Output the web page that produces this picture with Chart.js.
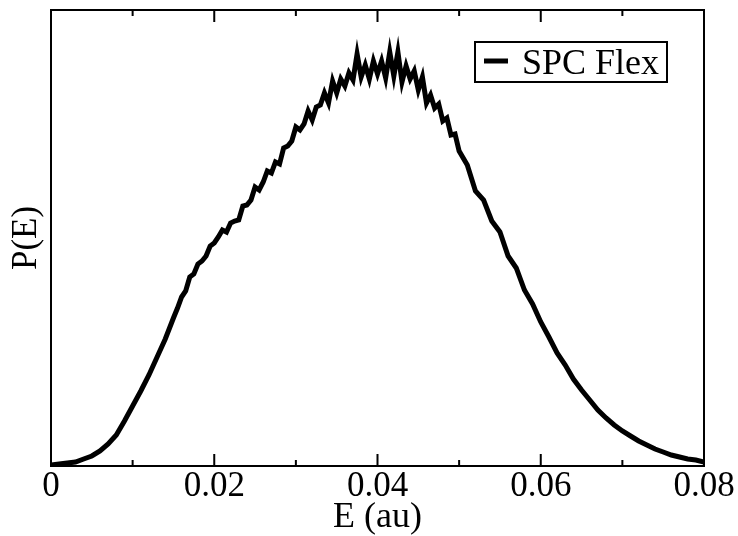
<!DOCTYPE html>
<html>
<head>
<meta charset="utf-8">
<title>P(E) - SPC Flex</title>
<script src="https://cdn.jsdelivr.net/npm/chart.js@4.4.1/dist/chart.umd.min.js"></script>
<style>
  html, body { margin: 0; padding: 0; background: #fff; }
  #wrap { width: 738px; height: 536px; position: relative; }
</style>
</head>
<body>
<div id="wrap"><canvas id="chart"></canvas></div>
<script>
// Energy grid (au), finer where the curve is noisy
const energies = [
  0, 0.001, 0.002, 0.003, 0.004, 0.005, 0.006, 0.007, 0.008, 0.009, 0.010, 0.011, 0.012, 0.013, 0.014, 0.015,
  0.0155, 0.016, 0.0165, 0.017, 0.0175, 0.018, 0.0185, 0.019, 0.0195, 0.020,
  0.0205, 0.021, 0.0215, 0.022, 0.0225, 0.023, 0.0235, 0.024, 0.0245, 0.025,
  0.0255, 0.026, 0.0265, 0.027, 0.0275, 0.028, 0.0285, 0.029, 0.0295, 0.030,
  0.0305, 0.031, 0.0315, 0.032, 0.0325, 0.033, 0.0335, 0.034, 0.0345, 0.035,
  0.0355, 0.036, 0.0365, 0.037, 0.0375, 0.038, 0.0385, 0.039, 0.0395, 0.040,
  0.0405, 0.041, 0.0415, 0.042, 0.0425, 0.043, 0.0435, 0.044, 0.0445, 0.045,
  0.0455, 0.046, 0.0465, 0.047, 0.0475, 0.048, 0.0485, 0.049, 0.0495, 0.050,
  0.051, 0.052, 0.053, 0.054, 0.055, 0.056, 0.057, 0.058, 0.059, 0.060,
  0.061, 0.062, 0.063, 0.064, 0.065, 0.066, 0.067, 0.068, 0.069, 0.070,
  0.071, 0.072, 0.073, 0.074, 0.075, 0.076, 0.077, 0.078, 0.079, 0.080
];

// P(E), arbitrary units
const density = [
  0.1, 0.2, 0.3, 0.4, 0.7, 1.0, 1.5, 2.2, 3.1, 4.5, 6.0, 7.5, 9.1, 10.9, 12.7, 14.8,
  15.8, 16.9, 17.5, 18.9, 19.2, 20.2, 20.5, 21.0, 22.0, 22.3,
  22.9, 23.6, 23.4, 24.3, 24.5, 24.6, 26.0, 26.1, 26.6, 27.9,
  27.6, 28.4, 29.5, 29.3, 30.4, 30.2, 31.8, 32.0, 32.5, 33.9,
  33.6, 34.2, 35.5, 34.6, 35.9, 36.1, 37.3, 36.3, 38.5, 37.3,
  38.7, 38.0, 39.3, 38.6, 41.2, 38.9, 40.1, 38.7, 40.5, 39.2,
  40.5, 38.8, 41.4, 39.0, 41.4, 38.4, 40.0, 38.7, 39.5, 37.6,
  38.9, 36.3, 37.1, 35.8, 36.2, 34.5, 34.8, 33.1, 33.2, 31.5,
  30.1, 27.5, 26.6, 24.5, 23.4, 21.0, 19.8, 17.6, 16.2, 14.4,
  12.9, 11.3, 10.1, 8.7, 7.6, 6.6, 5.6, 4.8, 4.1, 3.5,
  3.0, 2.5, 2.1, 1.7, 1.4, 1.1, 0.9, 0.7, 0.6, 0.4
];

const xTicks = [0, 0.02, 0.04, 0.06, 0.08];
const minorTicks = [0.01, 0.03, 0.05, 0.07];
const seriesLabel = 'SPC Flex';

const serif = '"Liberation Serif", "Times New Roman", serif';

// plot frame plus inward ticks on top and bottom
const frameTicks = {
  id: 'frameTicks',
  afterDatasetsDraw(chart) {
    const { ctx, chartArea: a, scales: { x } } = chart;
    ctx.save();
    ctx.strokeStyle = '#000';
    ctx.lineWidth = 2;
    ctx.strokeRect(a.left, a.top, a.right - a.left, a.bottom - a.top);
    ctx.beginPath();
    const tick = (v, len) => {
      const px = x.getPixelForValue(v);
      ctx.moveTo(px, a.bottom); ctx.lineTo(px, a.bottom - len);
      ctx.moveTo(px, a.top); ctx.lineTo(px, a.top + len);
    };
    xTicks.forEach(v => tick(v, 12));
    minorTicks.forEach(v => tick(v, 6));
    ctx.stroke();
    ctx.restore();
  }
};

// boxed legend in the upper right of the plot
const boxLegend = {
  id: 'boxLegend',
  afterDraw(chart) {
    const { ctx, chartArea: a } = chart;
    const ds = chart.data.datasets[0];
    const left = a.right - 229, top = a.top + 32, w = 192, h = 40;
    ctx.save();
    ctx.fillStyle = '#fff';
    ctx.fillRect(left, top, w, h);
    ctx.strokeStyle = '#000';
    ctx.lineWidth = 2;
    ctx.strokeRect(left, top, w, h);
    ctx.lineWidth = ds.borderWidth;
    ctx.beginPath();
    ctx.moveTo(left + 9, top + 19);
    ctx.lineTo(left + 33, top + 19);
    ctx.stroke();
    ctx.fillStyle = '#000';
    ctx.font = '36px ' + serif;
    ctx.textBaseline = 'alphabetic';
    ctx.fillText(ds.label, left + 47, top + 32);
    ctx.restore();
  }
};

new Chart(document.getElementById('chart'), {
  type: 'line',
  data: {
    datasets: [{
      label: seriesLabel,
      data: energies.map((e, i) => ({ x: e, y: density[i] })),
      borderColor: '#000',
      borderWidth: 5,
      borderJoinStyle: 'miter',
      pointRadius: 0,
      tension: 0,
      fill: false
    }]
  },
  options: {
    responsive: true,
    maintainAspectRatio: false,
    animation: false,
    layout: { padding: { top: 10, right: 34, left: 0, bottom: 0 } },
    plugins: { legend: { display: false }, tooltip: { enabled: false } },
    scales: {
      x: {
        type: 'linear',
        min: 0,
        max: 0.08,
        afterBuildTicks: scale => { scale.ticks = xTicks.map(v => ({ value: v })); },
        afterFit: scale => { scale.height = 70; },
        grid: { display: false, drawTicks: false },
        border: { display: false },
        ticks: {
          color: '#000',
          padding: 0,
          maxRotation: 0,
          font: { family: serif, size: 35, lineHeight: 1.2 },
          callback: v => (v === 0 ? '0' : String(+v.toFixed(2)))
        },
        title: {
          display: true,
          text: 'E (au)',
          color: '#000',
          padding: 0,
          font: { family: serif, size: 36, lineHeight: 1 }
        }
      },
      y: {
        min: 0,
        max: 45.6,
        afterFit: scale => { scale.width = 51; },
        grid: { display: false, drawTicks: false },
        border: { display: false },
        ticks: { display: false },
        title: {
          display: true,
          text: 'P(E)',
          color: '#000',
          padding: { top: 9, bottom: 0 },
          font: { family: serif, size: 35, lineHeight: 1 }
        }
      }
    }
  },
  plugins: [frameTicks, boxLegend]
});
</script>
</body>
</html>
